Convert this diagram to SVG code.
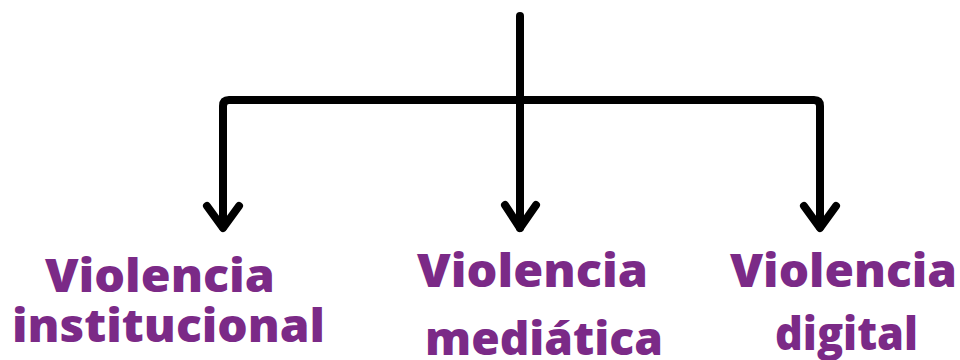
<svg xmlns="http://www.w3.org/2000/svg" width="960" height="360" viewBox="0 0 960 360">
<style>
.ln{fill:none;stroke:#000;stroke-width:8;stroke-linecap:round;stroke-linejoin:round}
.t{font-family:"Open Sans","Liberation Sans",sans-serif;font-weight:800;font-size:46px;fill:#7B2A87}
</style>
<rect width="960" height="360" fill="#fff"/>
<g id="connectors">
<path class="ln" d="M520,16 V228"/>
<path class="ln" d="M223,227 V106 Q223,100 229,100 H814 Q820,100 820,106 V227"/>
<path class="ln" d="M207,206 L223,228 L239,206"/>
<path class="ln" d="M505,205 L520,228 L536,205"/>
<path class="ln" d="M804,206 L820,228 L836,206"/>
</g>
<g id="node-institucional">
<text class="t" x="45" y="292" textLength="230" lengthAdjust="spacingAndGlyphs">Violencia</text>
<text class="t" x="12" y="342" textLength="313" lengthAdjust="spacingAndGlyphs">institucional</text>
</g>
<g id="node-mediatica">
<text class="t" x="417" y="287" textLength="231" lengthAdjust="spacingAndGlyphs">Violencia</text>
<text class="t" x="425" y="355" textLength="238" lengthAdjust="spacingAndGlyphs">mediática</text>
</g>
<g id="node-digital">
<text class="t" x="730" y="287" textLength="227" lengthAdjust="spacingAndGlyphs">Violencia</text>
<text class="t" x="775" y="350" textLength="143" lengthAdjust="spacingAndGlyphs">digital</text>
</g>
</svg>
